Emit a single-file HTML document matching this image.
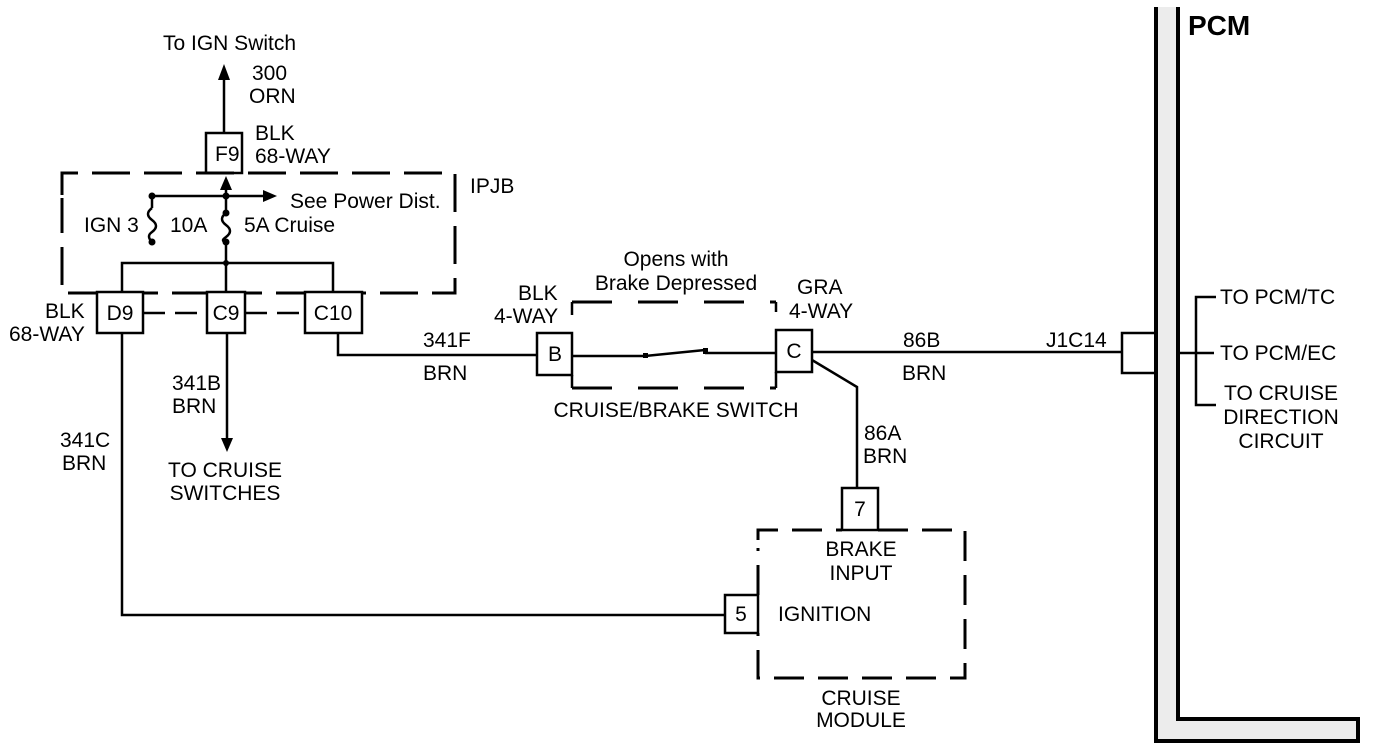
<!DOCTYPE html>
<html><head><style>
body{margin:0;background:#fff}
svg{display:block}
text{font-family:"Liberation Sans",Arial,sans-serif;font-size:21px;fill:#000}
.m{text-anchor:middle}
</style></head><body>
<svg width="1376" height="750" viewBox="0 0 1376 750" xmlns="http://www.w3.org/2000/svg">
<g stroke="#000" stroke-width="2.5" fill="none">
<line x1="224" y1="133" x2="224" y2="76"/>
<rect x="206" y="133" width="36" height="40" fill="#fff"/>
<path d="M62 195 V173 H455 V293 H62 V198" stroke-dasharray="38,14" stroke-width="3"/>
<line x1="226" y1="196" x2="226" y2="184"/>
<line x1="152" y1="196" x2="268" y2="196"/>
<line x1="152" y1="196" x2="152" y2="208"/>
<path d="M152 208 q-8 6 0 12 q8 6 0 12 q-6 4 0 10"/>
<line x1="226" y1="196" x2="226" y2="213"/>
<path d="M226 213 q-8 6 0 12 q8 6 0 12 q-6 4 0 5"/>
<line x1="226" y1="242" x2="226" y2="263"/>
<polyline points="122,292 122,263 333,263 333,292"/>
<line x1="226" y1="263" x2="226" y2="292"/>
<rect x="97" y="292" width="46" height="41" fill="#fff"/>
<rect x="207" y="292" width="38" height="41" fill="#fff"/>
<rect x="305" y="292" width="57" height="41" fill="#fff"/>
<line x1="143" y1="313" x2="207" y2="313" stroke-dasharray="22,10"/>
<line x1="245" y1="313" x2="305" y2="313" stroke-dasharray="22,10"/>
<polyline points="338,333 338,355 537,355"/>
<line x1="227" y1="333" x2="227" y2="440"/>
<polyline points="122,333 122,615 725,615"/>
<rect x="725" y="595" width="33" height="38" fill="#fff"/>
<path d="M758 540 V530 H842 M878 530 H965 V678 H758 V633 M758 595 V548" stroke-dasharray="30,14" stroke-width="3"/>
<rect x="842" y="488" width="36" height="42" fill="#fff"/>
<rect x="537" y="333" width="35" height="42" fill="#fff"/>
<rect x="776" y="330" width="36" height="42" fill="#fff"/>
<path d="M572 302 H776 M572 388 H776" stroke-dasharray="40,26" stroke-width="3"/>
<line x1="572" y1="302" x2="572" y2="315"/>
<line x1="776" y1="302" x2="776" y2="312"/>
<line x1="572" y1="388" x2="572" y2="375"/>
<line x1="776" y1="388" x2="776" y2="372"/>
<polyline points="572,356 645,356 705,350"/>
<line x1="705" y1="353" x2="776" y2="353"/>
<polyline points="812,360 857,387 857,488"/>
<line x1="812" y1="352" x2="1122" y2="352"/>
<rect x="1122" y="333" width="35" height="40" fill="#fff"/>
<path d="M1156 7 V741 H1358 V719 H1178 V7" fill="#ececec" stroke-width="4"/>
<line x1="1180" y1="353" x2="1196" y2="353"/>
<polyline points="1216,297 1196,297 1196,405 1216,405"/>
<line x1="1196" y1="353" x2="1214" y2="353"/>
</g>
<g fill="#000">
<polygon points="224,64 218,80 230,80"/>
<polygon points="226,176 220,190 232,190"/>
<polygon points="277,196 263,190 263,202"/>
<polygon points="227,452 221,438 233,438"/>
<circle cx="152" cy="196" r="3.5"/><circle cx="152" cy="242" r="3.5"/>
<circle cx="226" cy="196" r="3.5"/><circle cx="226" cy="213" r="3.5"/><circle cx="226" cy="242" r="3.5"/>
<circle cx="226" cy="263" r="3"/>
<rect x="643" y="353" width="5" height="5"/><rect x="703" y="348" width="5" height="6"/>
</g>
<text x="163" y="50">To IGN Switch</text>
<text x="252" y="80">300</text><text x="249" y="103">ORN</text>
<text x="215" y="161">F9</text>
<text x="255" y="140">BLK</text><text x="255" y="163">68-WAY</text>
<text x="470" y="193">IPJB</text>
<text x="290" y="208">See Power Dist.</text>
<text x="84" y="232">IGN 3</text><text x="170" y="232">10A</text><text x="244" y="232">5A Cruise</text>
<text x="120" y="320" class="m">D9</text><text x="226" y="320" class="m">C9</text><text x="333" y="320" class="m">C10</text>
<text x="45" y="318">BLK</text><text x="9" y="341">68-WAY</text>
<text x="423" y="347">341F</text><text x="423" y="380">BRN</text>
<text x="172" y="390">341B</text><text x="172" y="413">BRN</text>
<text x="225" y="477" class="m">TO CRUISE</text><text x="225" y="500" class="m">SWITCHES</text>
<text x="60" y="447">341C</text><text x="62" y="470">BRN</text>
<text x="518" y="300">BLK</text><text x="494" y="323">4-WAY</text>
<text x="555" y="361" class="m">B</text><text x="794" y="358" class="m">C</text>
<text x="676" y="266" class="m">Opens with</text><text x="676" y="290" class="m">Brake Depressed</text>
<text x="797" y="294">GRA</text><text x="789" y="318">4-WAY</text>
<text x="676" y="417" class="m">CRUISE/BRAKE SWITCH</text>
<text x="903" y="347">86B</text><text x="902" y="380">BRN</text>
<text x="1046" y="347">J1C14</text>
<text x="864" y="440">86A</text><text x="863" y="463">BRN</text>
<text x="860" y="516" class="m">7</text><text x="741" y="621" class="m">5</text>
<text x="861" y="556" class="m">BRAKE</text><text x="861" y="580" class="m">INPUT</text>
<text x="778" y="621">IGNITION</text>
<text x="861" y="705" class="m">CRUISE</text><text x="861" y="727" class="m">MODULE</text>
<text x="1188" y="35" style="font-size:28px;font-weight:bold">PCM</text>
<text x="1220" y="304">TO PCM/TC</text>
<text x="1220" y="360">TO PCM/EC</text>
<text x="1281" y="400" class="m">TO CRUISE</text>
<text x="1281" y="424" class="m">DIRECTION</text>
<text x="1281" y="448" class="m">CIRCUIT</text>
</svg>
</body></html>
